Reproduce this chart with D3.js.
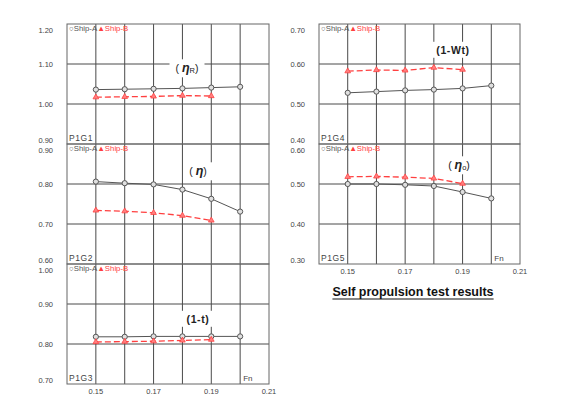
<!DOCTYPE html>
<html><head><meta charset="utf-8">
<script src="https://cdn.jsdelivr.net/npm/d3@7/dist/d3.min.js"></script>
<style>body{margin:0;background:#fff}svg{display:block;font-family:"Liberation Sans",Arial,sans-serif}</style>
</head><body><svg id="c" width="570" height="410"></svg>
<script>
// ---- data ----
const fnA = [0.15, 0.16, 0.17, 0.18, 0.19, 0.20];
const fnB = [0.15, 0.16, 0.17, 0.18, 0.19];
const etaR_A = [1.036, 1.037, 1.038, 1.039, 1.041, 1.043];
const etaR_B = [1.017, 1.018, 1.019, 1.021, 1.020];
const eta_A = [0.806, 0.802, 0.799, 0.786, 0.763, 0.731];
const eta_B = [0.734, 0.732, 0.728, 0.721, 0.709];
const oneT_A = [0.818, 0.818, 0.819, 0.819, 0.819, 0.819];
const oneT_B = [0.805, 0.806, 0.807, 0.809, 0.811];
const oneW_A = [0.528, 0.531, 0.534, 0.536, 0.539, 0.546];
const oneW_B = [0.582, 0.585, 0.584, 0.591, 0.586];
const eta0_A = [0.500, 0.500, 0.498, 0.495, 0.480, 0.464];
const eta0_B = [0.518, 0.519, 0.517, 0.514, 0.501];
const xTicks = [0.15, 0.17, 0.19, 0.21];
const xGrid = [0.15, 0.16, 0.17, 0.18, 0.19, 0.20];
const panelIds = ["P1G1", "P1G2", "P1G3", "P1G4", "P1G5"];
const yTicks1 = [0.90, 1.00, 1.10, 1.20];
const yTicks2 = [0.60, 0.70, 0.80, 0.90];
const yTicks3 = [0.70, 0.80, 0.90, 1.00];
const yTicks4 = [0.40, 0.50, 0.60, 0.70];
const yTicks5 = [0.30, 0.40, 0.50, 0.60];
const legendA = "Ship-A", legendB = "Ship-B";
const title = "Self propulsion test results";

const svg = d3.select("#c");
const panels = [
  {id: panelIds[0], col: 0, row: 0, ticks: yTicks1, a: etaR_A, b: etaR_B, lab: ["(", "η", "R", ")"], lx: 187, ly: 69},
  {id: panelIds[1], col: 0, row: 1, ticks: yTicks2, a: eta_A, b: eta_B, lab: ["(", "η", "", ")"], lx: 198, ly: 172},
  {id: panelIds[2], col: 0, row: 2, ticks: yTicks3, a: oneT_A, b: oneT_B, lab: ["(1-t)"], lx: 198, ly: 320, fn: true},
  {id: panelIds[3], col: 1, row: 0, ticks: yTicks4, a: oneW_A, b: oneW_B, lab: ["(1-Wt)"], lx: 453, ly: 51},
  {id: panelIds[4], col: 1, row: 1, ticks: yTicks5, a: eta0_A, b: eta0_B, lab: ["(", "η", "o", ")"], lx: 459, ly: 166, fn: true}
];
const colX = [[67, 269], [319, 520]];
const rowY = [[24, 144], [144, 264], [264, 384]];
const gridCol = "#4a4a4a", txtCol = "#444", red = "#ff4040";

panels.forEach(p => {
  const [x0, x1] = colX[p.col], [y0, y1] = rowY[p.row];
  const x = d3.scaleLinear().domain([0.14, 0.21]).range([x0, x1]);
  const y = d3.scaleLinear().domain([p.ticks[0], p.ticks[p.ticks.length - 1]]).range([y1, y0]);
  const g = svg.append("g");
  // grid
  g.selectAll(".vg").data(xGrid).join("line").attr("x1", d => x(d)).attr("x2", d => x(d))
    .attr("y1", y0).attr("y2", y1).attr("stroke", gridCol).attr("stroke-width", 1);
  g.selectAll(".hg").data(p.ticks.slice(1, -1)).join("line").attr("y1", d => y(d)).attr("y2", d => y(d))
    .attr("x1", x0).attr("x2", x1).attr("stroke", gridCol).attr("stroke-width", 1);
  g.append("rect").attr("x", x0).attr("y", y0).attr("width", x1 - x0).attr("height", y1 - y0)
    .attr("fill", "none").attr("stroke", "#666").attr("stroke-width", 1);
  // y labels
  g.selectAll(".yl").data(p.ticks).join("text")
    .attr("x", x0 - 14).attr("text-anchor", "end").attr("font-size", 7.5).attr("fill", txtCol)
    .attr("y", (d, i) => y(d) + 2.5 + (i === p.ticks.length - 1 ? 6 : i === 0 ? -4 : 0))
    .text(d => d.toFixed(2));
  // annotation with white background
  const t = g.append("text").attr("x", p.lx).attr("y", p.ly).attr("text-anchor", "middle")
    .attr("font-size", 10.5).attr("fill", "#222").attr("dominant-baseline", "middle");
  if (p.lab.length === 1) {
    t.append("tspan").attr("font-weight", "bold").attr("font-size", 10.5).attr("letter-spacing", 0.6).text(p.lab[0]);
  } else {
    t.append("tspan").text(p.lab[0] + " ");
    t.append("tspan").attr("font-weight", "bold").attr("font-style", "italic").attr("font-size", 12.5).text(p.lab[1]);
    if (p.lab[2]) t.append("tspan").attr("font-size", 7.5).attr("dy", 2).text(p.lab[2]);
    t.append("tspan").attr("dy", p.lab[2] ? -2 : 0).text(p.lab[3]);
  }
  const bb = t.node().getBBox();
  g.insert("rect", "text").attr("x", bb.x - 6).attr("y", bb.y - 2).attr("width", bb.width + 12)
    .attr("height", bb.height + 4).attr("fill", "#fff");
  // series A
  const la = d3.line().x((d, i) => x(fnA[i])).y(d => y(d));
  g.append("path").datum(p.a).attr("d", la).attr("fill", "none").attr("stroke", "#555").attr("stroke-width", 1);
  // series B
  const lb = d3.line().x((d, i) => x(fnB[i])).y(d => y(d));
  g.append("path").datum(p.b).attr("d", lb).attr("fill", "none").attr("stroke", red)
    .attr("stroke-width", 1.3).attr("stroke-dasharray", "6,3");
  g.selectAll(".ma").data(p.a).join("circle").attr("cx", (d, i) => x(fnA[i])).attr("cy", d => y(d))
    .attr("r", 2.6).attr("fill", "#e0e0e0").attr("stroke", "#555").attr("stroke-width", 1);
  const tri = d3.symbol().type(d3.symbolTriangle).size(14);
  g.selectAll(".mb").data(p.b).join("path").attr("d", tri)
    .attr("transform", (d, i) => `translate(${x(fnB[i])},${y(d)})`)
    .attr("fill", "#ff8080").attr("stroke", red).attr("stroke-width", 0.8);
  // legend
  const lg = g.append("text").attr("x", x0 + 2).attr("y", y0 + 7).attr("font-size", 7.8);
  lg.append("tspan").attr("fill", "#555").text("○" + legendA);
  lg.append("tspan").attr("fill", red).text("▲" + legendB);
  // panel id
  g.append("text").attr("x", x0 + 2).attr("y", y1 - 3).attr("font-size", 8.5).attr("fill", txtCol)
    .attr("letter-spacing", 0.6).text(p.id);
  if (p.fn) {
    g.append("text").attr("x", x(0.2) + 3).attr("y", y1 - 3).attr("font-size", 8).attr("fill", txtCol).text("Fn");
    g.selectAll(".xl").data(xTicks).join("text").attr("x", d => x(d)).attr("y", y1 + 10)
      .attr("text-anchor", "middle").attr("font-size", 7.5).attr("fill", txtCol).text(d => d.toFixed(2));
  }
});

// title
const tt = svg.append("text").attr("x", 413).attr("y", 296).attr("text-anchor", "middle")
  .attr("font-size", 12.5).attr("font-weight", "bold").attr("fill", "#111").text(title);
const tb = tt.node().getBBox();
svg.append("line").attr("x1", tb.x).attr("x2", tb.x + tb.width).attr("y1", 299).attr("y2", 299)
  .attr("stroke", "#111").attr("stroke-width", 1.2);
</script></body></html>
